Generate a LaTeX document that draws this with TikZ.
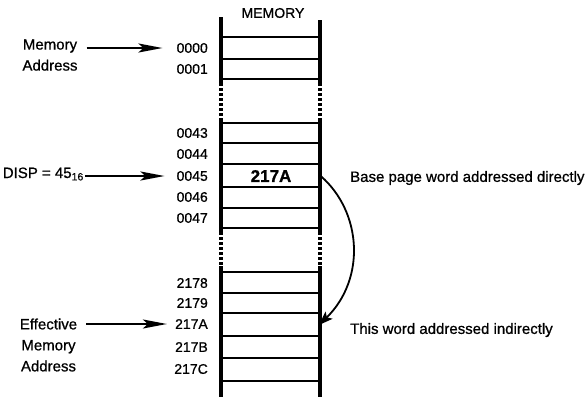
\documentclass[tikz,border=0pt]{standalone}
\usepackage{fontspec}
\setmainfont{Liberation Sans}[FakeBold=0.8]
\usetikzlibrary{arrows.meta}

\begin{document}
\begin{tikzpicture}[x=1pt,y=-1pt]
    \tikzset{
    txt/.style={inner sep=0pt, font=\fontsize{15}{21}\selectfont},
    addr/.style={inner sep=0pt, anchor=east, font=\fontsize{14}{16}\selectfont},
    wall/.style={line width=3.5pt},
    gap/.style={line width=3.5pt, dash pattern=on 3pt off 2pt},
    row/.style={line width=1.8pt},
    bigarrow/.style={-{Stealth[length=24pt,width=9pt,inset=5pt]}, line width=2.2pt},
    }
    \useasboundingbox (0,0) rectangle (588,402);

    % memory column
    \node[addr, anchor=center] (mem) at (273,13) {MEMORY};
    \foreach \x/\t in {221/17, 320/20} {
        \draw[wall] (\x,\t) -- (\x,83);
        \draw[gap] (\x,83) -- (\x,121);
        \draw[wall] (\x,121) -- (\x,232);
        \draw[gap] (\x,232) -- (\x,266);
        \draw[wall] (\x,266) -- (\x,397);
    }
    \foreach \y in {37,59,79,123,143,164,187,208,228,272,293,313,336,358,381}
        \draw[row] (221,\y) -- (320,\y);

    % addresses
    \foreach \a/\y in {0000/48, 0001/69, 0043/133, 0044/154, 0045/176, 0046/197, 0047/218,
                       2178/283, 2179/303, 217A/324, 217B/347, 217C/369}
        \node[addr] (a\a) at (208,\y) {\a};

    \node[inner sep=0pt, minimum width=99pt, font=\fontsize{17}{18}\selectfont\bfseries] (w0045) at (271,176) {217A};
    \coordinate (w217A) at (319,325);

    % pointers
    \node[txt, align=center] (memaddr) at (50,55) {Memory\\Address};
    \node[txt, anchor=east] (disp) at (84,174) {DISP = 45\textsubscript{16}};
    \node[txt, align=center] (effaddr) at (48.5,345) {Effective\\Memory\\Address};

    \draw[bigarrow, shorten <=9pt, shorten >=14pt] (memaddr.east |- a0000.west) -- (a0000.west);
    \draw[bigarrow, shorten <=1pt, shorten >=12pt] (disp.east |- a0045.west) -- (a0045.west);
    \draw[bigarrow, shorten <=9pt, shorten >=8pt] (effaddr.east |- a217A.west) -- (a217A.west);

    % indirection
    \node[txt, anchor=west] (direct) at (350,178) {Base page word addressed directly};
    \node[txt, anchor=west] (indirect) at (350,330) {This word addressed indirectly};
    \draw[-{Stealth[length=14pt,width=10pt,inset=3pt]}, line width=1.8pt]
        (w0045.east) .. controls (362,212) and (366,279) .. (w217A);
\end{tikzpicture}
\end{document}
